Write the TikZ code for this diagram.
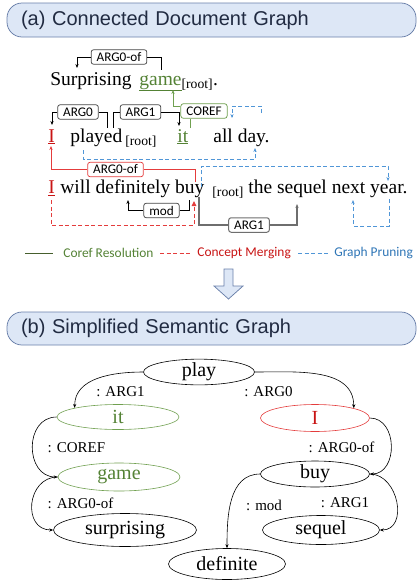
\documentclass[tikz,border=0pt]{standalone}
\usepackage{fontspec}
\setmainfont{Liberation Serif}
\setsansfont{Liberation Sans}
\newfontfamily\argfont{Carlito}
\usetikzlibrary{arrows.meta, shapes.geometric}

\definecolor{barfill}{RGB}{221,231,246}
\definecolor{barline}{RGB}{106,128,170}
\definecolor{titletext}{RGB}{33,43,66}
\definecolor{txtgreen}{RGB}{84,130,53}
\definecolor{corefgreen}{RGB}{112,160,80}
\definecolor{legendgreen}{RGB}{70,95,45}
\definecolor{txtred}{RGB}{200,20,20}
\definecolor{mergered}{RGB}{228,60,60}
\definecolor{pruneblue}{RGB}{80,150,215}
\definecolor{txtblue}{RGB}{46,117,182}
\definecolor{boxline}{RGB}{70,70,70}
\definecolor{arggray}{RGB}{110,110,110}

\tikzset{
  titlebar/.style={draw=barline, fill=barfill, rounded corners=15pt, minimum width=409pt,
    minimum height=34pt, text width=381pt, align=left, inner xsep=14pt,
    font=\sffamily\fontsize{20}{24}\selectfont, text=titletext},
  word/.style={anchor=base west, inner sep=0pt, font=\fontsize{19.5}{22}\selectfont},
  argbox/.style={draw=boxline, rounded corners=2.5pt, fill=white, inner xsep=5.5pt, inner ysep=0pt,
    minimum height=14.5pt, font=\argfont\fontsize{13.2}{14}\selectfont},
  legend/.style={anchor=west, inner sep=0pt, font=\argfont\fontsize{13.4}{15}\selectfont},
  concept/.style={ellipse, draw, line width=0.6pt, inner sep=0pt, font=\fontsize{20}{22}\selectfont},
  rel/.style={inner sep=0pt, font=\fontsize{15}{17}\selectfont},
  arr/.style={-{Stealth[length=4pt, width=3.2pt]}},
  arrfill/.style={-{Triangle[length=5pt, width=4.5pt]}},
  prune/.style={color=pruneblue, line width=1pt, dash pattern=on 4pt off 2.5pt},
  mergedash/.style={color=mergered, line width=1pt, dash pattern=on 4pt off 2.5pt},
  argline/.style={color=arggray, line width=1.1pt},
}

\begin{document}
\begin{tikzpicture}[x=1pt, y=1pt, line width=0.75pt]
    \useasboundingbox (0,0) rectangle (418,-581);

    % (a) document graph
    \node[titlebar] (bar-a) at (211.5,-20) {(a) Connected Document Graph};

    % sentences
    \node[word] (w-surprising) at (50,-85) {Surprising};
    \node[word] (w-game) at (139,-85) {\textcolor{txtgreen}{\underline{game}}\textsubscript{[root]}.};

    \node[word] (w-i1) at (48,-142) {\textcolor{txtred}{\underline{I}}};
    \node[word] (w-played) at (70,-142) {played\hspace{3pt}\textsubscript{[root]}};
    \node[word] (w-it) at (177,-142) {\textcolor{txtgreen}{\underline{it}}};
    \node[word] (w-allday) at (213,-142) {all day.};

    \node[word] (w-i2) at (48,-193.5) {\textcolor{txtred}{\underline{I}}};
    \node[word] (w-buy) at (60,-193.5) {will definitely buy\hspace{8pt}\textsubscript{[root]}};
    \node[word] (w-sequel) at (248,-193.5) {the sequel next year.};

    % relation boxes
    \node[argbox] (l-arg0of-a) at (119,-57) {ARG0-of};
    \node[argbox, draw=corefgreen] (l-coref) at (204,-111) {COREF};
    \node[argbox] (l-arg0) at (78,-112) {ARG0};
    \node[argbox] (l-arg1-a) at (140.5,-112) {ARG1};
    \node[argbox, draw=mergered] (l-arg0of-b) at (115.5,-169.5) {ARG0-of};
    \node[argbox] (l-mod) at (161.5,-210.5) {mod};
    \node[argbox, draw=arggray, line width=1pt] (l-arg1-b) at (249,-225) {ARG1};

    % ARG0-of above sentence 1
    \coordinate (t-surprising) at (77,-68);
    \coordinate (t-game) at (161,-70);
    \draw[arr] (l-arg0of-a.west) -| (t-surprising);
    \draw (l-arg0of-a.east) -| (t-game);

    % coref resolution
    \coordinate (t-gameline) at (173,-90);
    \coordinate (t-it) at (190,-128);
    \draw[corefgreen, arr] ([yshift=5pt]l-coref.west) -| (t-gameline);
    \draw[corefgreen] (t-it) -- (t-it |- l-coref.south);

    % ARG0 and ARG1 of played
    \coordinate (t-i1) at (52,-125);
    \coordinate (t-played-a) at (107,-128);
    \coordinate (t-played-b) at (113,-128);
    \coordinate (t-it-top) at (179,-126);
    \draw[arr] (l-arg0.west) -| (t-i1);
    \draw (l-arg0.east) -| (t-played-a);
    \draw (l-arg1-a.west) -| (t-played-b);
    \draw[arr] (l-arg1-a.east) -| (t-it-top);

    % pruning around all day
    \coordinate (p-day) at (261,-113);
    \coordinate (p-all) at (232,-118);
    \draw[prune, arr] (p-day) -- ++(0,7) -| (p-all);
    \coordinate (p-played) at (83,-150);
    \coordinate (p-day-b) at (255,-148);
    \draw[prune, arr] (p-played) -- ++(0,-9) -| (p-day-b);

    % concept merging
    \coordinate (m-buy) at (195,-182);
    \coordinate (m-i1) at (51,-146);
    \draw[mergered] (m-buy) |- (l-arg0of-b.east);
    \draw[mergered, arr] (l-arg0of-b.west) -| (m-i1);
    \coordinate (m-i2) at (51,-200);
    \coordinate (m-buy-b) at (194,-201);
    \draw[mergedash, arrfill] (m-i2) -- ++(0,-25) -| (m-buy-b);

    % mod and ARG1 of buy
    \coordinate (t-definitely) at (128,-200);
    \coordinate (t-buy-m) at (189,-200);
    \draw[arr] (l-mod.west) -| (t-definitely);
    \draw (l-mod.east) -| (t-buy-m);
    \coordinate (t-buy-g) at (199,-197);
    \coordinate (t-sequel) at (297,-204);
    \draw[argline] (t-buy-g) |- (l-arg1-b.west);
    \draw[argline, arr] (l-arg1-b.east) -| (t-sequel);

    % pruning next year
    \coordinate (p-root) at (201,-187);
    \coordinate (p-year) at (388,-181);
    \draw[prune, arr] (p-root) -- ++(0,21) -| (p-year);
    \coordinate (p-year-b) at (389,-199);
    \coordinate (p-next) at (353,-200);
    \draw[prune, arr] (p-year-b) -- ++(0,-27) -| (p-next);

    % legend
    \node[legend, text=txtgreen] (leg-coref) at (63,-253) {Coref Resolution};
    \node[legend, text=txtred] (leg-merge) at (197,-253) {Concept Merging};
    \node[legend, text=txtblue] (leg-prune) at (334,-253) {Graph Pruning};
    \draw[legendgreen] ([xshift=-38pt]leg-coref.west) -- ([xshift=-10pt]leg-coref.west);
    \draw[mergedash] ([xshift=-37pt]leg-merge.west) -- ([xshift=-7pt]leg-merge.west);
    \draw[prune] ([xshift=-36pt]leg-prune.west) -- ([xshift=-6pt]leg-prune.west);

    % down arrow
    \draw[draw=barline, fill=barfill] (224,-269) -- (233,-269) -- (233,-286) -- (243,-286)
        -- (228.5,-299) -- (214,-286) -- (224,-286) -- cycle;

    % (b) semantic graph
    \node[titlebar, minimum height=33pt] (bar-b) at (211.5,-328.5) {(b) Simplified Semantic Graph};

    \node[concept, minimum width=111pt, minimum height=25pt] (play) at (199,-372) {play};
    \node[concept, draw=corefgreen, text=txtgreen, minimum width=122pt, minimum height=25pt] (it) at (118,-417) {it};
    \node[concept, draw=mergered, text=txtred, minimum width=109pt, minimum height=27pt] (i) at (315,-418) {I};
    \node[concept, draw=corefgreen, text=txtgreen, minimum width=122pt, minimum height=28pt] (game) at (119,-477) {game};
    \node[concept, minimum width=109pt, minimum height=26pt] (buy) at (315,-474) {buy};
    \node[concept, minimum width=143pt, minimum height=33pt] (surprising) at (125,-530) {surprising};
    \node[concept, minimum width=117pt, minimum height=29pt] (sequel) at (321,-530) {sequel};
    \node[concept, minimum width=117pt, minimum height=31pt] (definite) at (227,-564) {definite};

    \draw[arr, line width=0.6pt] (play.west) to[out=180, in=90] (it.north west);
    \draw[arr, line width=0.6pt] (play.east) to[out=0, in=90] (i.north east);
    \draw[arr, line width=0.6pt] (it.west) to[out=180, in=180, looseness=1.4] (game.west);
    \draw[arr, line width=0.6pt] (game.west) to[out=180, in=180, looseness=1.5] (surprising.west);
    \draw[arr, line width=0.6pt] (i.east) to[out=0, in=0, looseness=1.3] (buy.east);
    \draw[arr, line width=0.6pt] (buy.east) to[out=0, in=0, looseness=1.3] (sequel.east);
    \draw[arr, line width=0.6pt] (buy.west) to[out=180, in=90] (definite.north);

    \node[rel] (r-arg1) at (120.5,-392) {: ARG1};
    \node[rel] (r-arg0) at (268.5,-392) {: ARG0};
    \node[rel] (r-coref) at (76.5,-448) {: COREF};
    \node[rel] (r-arg0of-i) at (341.5,-447) {: ARG0-of};
    \node[rel] (r-arg0of-g) at (80.5,-503) {: ARG0-of};
    \node[rel] (r-arg1-s) at (345,-503) {: ARG1};
    \node[rel] (r-mod) at (264,-505) {: mod};
\end{tikzpicture}
\end{document}
